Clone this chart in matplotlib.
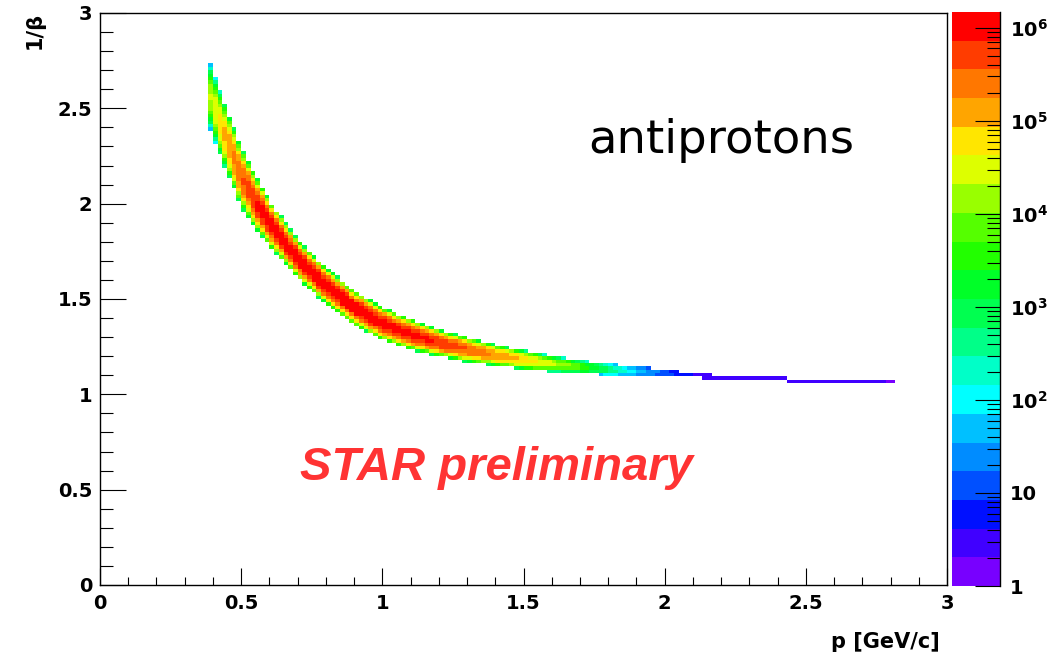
import numpy as np
import matplotlib
matplotlib.use("Agg")
import matplotlib.pyplot as plt
from matplotlib.colors import ListedColormap, BoundaryNorm
from matplotlib.ticker import MultipleLocator, FixedLocator, LogLocator, FuncFormatter, NullFormatter

plt.rcParams["font.family"] = ["DejaVu Sans"]
plt.rcParams["font.weight"] = "bold"
plt.rcParams["mathtext.fontset"] = "dejavusans"

# ----------------------------------------------------------------------
#  Band of the 1/beta vs p histogram, sampled along p
# ----------------------------------------------------------------------
band_p = [0.39, 0.42, 0.45, 0.50, 0.55, 0.60, 0.70, 0.80, 0.90, 1.00, 1.10, 1.20, 1.30,
          1.40, 1.50, 1.60, 1.70, 1.80, 1.90, 2.00, 2.10, 2.20, 2.40, 2.60, 2.80]
band_center = [2.565, 2.44, 2.33, 2.14, 2.01, 1.90, 1.71, 1.57, 1.455, 1.37, 1.315, 1.27, 1.235,
               1.205, 1.18, 1.16, 1.145, 1.13, 1.12, 1.11, 1.10, 1.09, 1.078, 1.068, 1.06]
band_halfwidth = [0.175, 0.17, 0.165, 0.155, 0.14, 0.12, 0.10, 0.095, 0.09, 0.085, 0.08, 0.07, 0.065,
                  0.055, 0.05, 0.042, 0.035, 0.03, 0.025, 0.02, 0.013, 0.009, 0.009, 0.009, 0.009]
# log10(counts) at the band core and at its outer cells
band_peak = [4.3, 4.7, 5.1, 5.5, 5.9, 6.0, 6.05, 6.05, 6.05, 6.0, 5.95, 5.85, 5.55,
             5.2, 4.9, 4.4, 3.8, 2.8, 1.8, 1.1, 0.6, 0.5, 0.4, 0.5, 0.3]
band_edge = [1.5, 2.2, 2.6, 2.9, 3.0, 3.0, 3.0, 3.0, 3.0, 3.0, 3.0, 2.9, 2.8,
             2.7, 2.5, 2.3, 2.1, 1.7, 1.2, 0.8, 0.4, 0.3, 0.3, 0.3, 0.3]

z_max = 1.48e6
n_levels = 20
palette = ["#7800ff", "#4000ff", "#0010ff", "#0050ff", "#008cff", "#00c0ff", "#00ffff",
           "#00ffc8", "#00ff88", "#00ff50", "#00ff28", "#22ff00", "#55ff00", "#99ff00",
           "#ddff00", "#ffe600", "#ffa500", "#ff7700", "#ff3c00", "#ff0000"]

# ----------------------------------------------------------------------
#  Histogram cells
# ----------------------------------------------------------------------
p_edges = np.linspace(0.0, 3.0, 181)
y_edges = np.linspace(0.0, 3.0, 171)
p_mid = 0.5 * (p_edges[:-1] + p_edges[1:])
y_mid = 0.5 * (y_edges[:-1] + y_edges[1:])

c = np.interp(p_mid, band_p, band_center)
hw = np.interp(p_mid, band_p, band_halfwidth)
pk = np.interp(p_mid, band_p, band_peak)
ed = np.interp(p_mid, band_p, band_edge)

dist = np.abs(y_mid[:, None] - c[None, :]) / hw[None, :]
logc = pk[None, :] - (pk - ed)[None, :] * dist ** 2.5
in_p = (p_mid >= band_p[0] - 0.01) & (p_mid <= band_p[-1] + 0.01)
counts = np.where((dist <= 1.0) & in_p[None, :], 10.0 ** logc, np.nan)
counts = np.minimum(counts, z_max * 0.999)

levels = np.logspace(0, np.log10(z_max), n_levels + 1)
cmap = ListedColormap(palette)
cmap.set_bad((1, 1, 1, 0))
cmap.set_under((1, 1, 1, 0))
norm = BoundaryNorm(levels, n_levels)

# ----------------------------------------------------------------------
#  Figure
# ----------------------------------------------------------------------
W, H = 1048, 660
fig = plt.figure(figsize=(W / 100, H / 100), dpi=100)
ax = fig.add_axes([100 / W, 75 / H, 847 / W, 572 / H])
cax = fig.add_axes([952 / W, 74 / H, 48 / W, 574 / H])

ax.pcolormesh(p_edges, y_edges, counts, cmap=cmap, norm=norm, shading="flat")
ax.set_xlim(0, 3)
ax.set_ylim(0, 3)

fmt = FuncFormatter(lambda v, pos: "%g" % v)
ax.xaxis.set_major_locator(MultipleLocator(0.5))
ax.xaxis.set_minor_locator(MultipleLocator(0.1))
ax.yaxis.set_major_locator(MultipleLocator(0.5))
ax.yaxis.set_minor_locator(MultipleLocator(0.1))
ax.xaxis.set_major_formatter(fmt)
ax.yaxis.set_major_formatter(fmt)
ax.tick_params(axis="x", which="major", direction="in", length=12.2, width=0.8,
               labelsize=14, pad=6.5, top=False)
ax.tick_params(axis="x", which="minor", direction="in", length=6.1, width=0.8, top=False)
ax.tick_params(axis="y", which="major", direction="in", length=18.7, width=0.8,
               labelsize=14, pad=5.5, right=False)
ax.tick_params(axis="y", which="minor", direction="in", length=9.4, width=0.8, right=False)
for s in ax.spines.values():
    s.set_linewidth(1.0)

fig.text(940 / W, 1 - 642 / H, "p [GeV/c]", ha="right", va="center", fontsize=15)
fig.text(35 / W, 1 - 12 / H, "1/β", rotation=90, ha="center", va="top", fontsize=15)

ax.text(1.729, 2.265, "antiprotons", fontsize=33.5, fontweight="normal",
        color="black", ha="left", va="baseline")
ax.text(0.708, 0.551, "STAR preliminary", fontsize=34, fontweight="bold",
        fontstyle="italic", family="Liberation Sans", color="#ff3333",
        ha="left", va="baseline")

# ----------------------------------------------------------------------
#  Palette axis
# ----------------------------------------------------------------------
cax.set_yscale("log")
cax.set_ylim(1, z_max)
cax.set_xlim(0, 1)
for i in range(n_levels):
    cax.axhspan(levels[i], levels[i + 1], color=palette[i], lw=0)
cax.set_xticks([])
cax.yaxis.tick_right()
cax.yaxis.set_major_locator(FixedLocator([1, 10, 1e2, 1e3, 1e4, 1e5, 1e6]))
cax.yaxis.set_minor_locator(LogLocator(base=10, subs=np.arange(2, 10)))
cax.yaxis.set_minor_formatter(NullFormatter())


def _cb_label(v, pos):
    k = int(round(np.log10(v)))
    if k == 0:
        return "1"
    if k == 1:
        return "10"
    return r"$\mathbf{10^{%d}}$" % k


cax.yaxis.set_major_formatter(FuncFormatter(_cb_label))
cax.tick_params(axis="y", which="major", direction="in", length=18, width=0.8,
                labelsize=14, pad=7, left=False, right=True)
cax.tick_params(axis="y", which="minor", direction="in", length=9.4, width=0.8,
                left=False, right=True)
for side in ("left", "top", "bottom"):
    cax.spines[side].set_visible(False)
cax.spines["right"].set_linewidth(1.0)

fig.savefig("out.png", dpi=100)
